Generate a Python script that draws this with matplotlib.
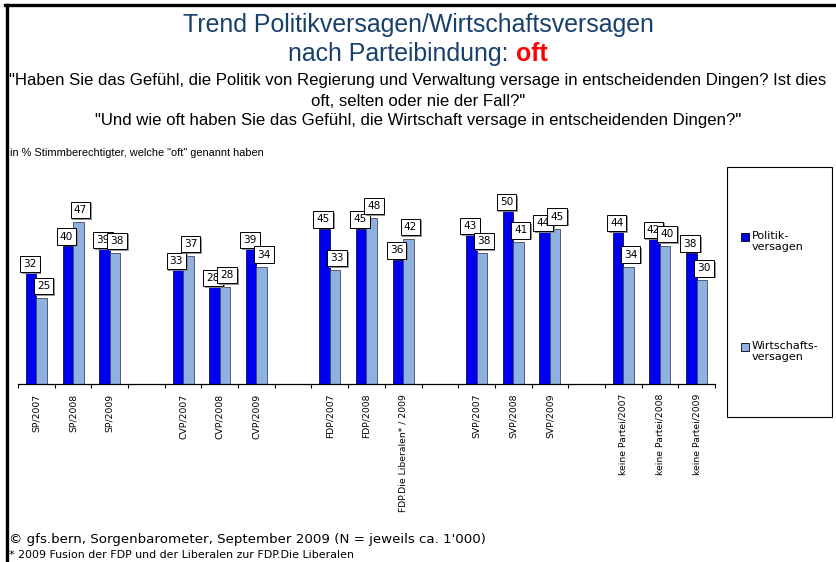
import numpy as np
import matplotlib
matplotlib.use("Agg")
import matplotlib.pyplot as plt
from matplotlib.patches import Rectangle
from matplotlib.lines import Line2D
from matplotlib import patheffects as pe

# Daten
kategorien = ["SP/2007", "SP/2008", "SP/2009",
              "CVP/2007", "CVP/2008", "CVP/2009",
              "FDP/2007", "FDP/2008", "FDP.Die Liberalen* / 2009",
              "SVP/2007", "SVP/2008", "SVP/2009",
              "keine Partei/2007", "keine Partei/2008", "keine Partei/2009"]
politik = [32, 40, 39, 33, 28, 39, 45, 45, 36, 43, 50, 44, 44, 42, 38]
wirtschaft = [25, 47, 38, 37, 28, 34, 33, 48, 42, 38, 41, 45, 34, 40, 30]

DUNKEL = "#0000F0"
HELL = "#8FB1E0"
TITEL = "#17406D"
SCHMAL = ["DejaVu Sans Condensed", "Liberation Sans", "DejaVu Sans"]

W, H = 836, 562
fig = plt.figure(figsize=(W / 100, H / 100), dpi=100)
fig.patch.set_facecolor("white")

def fx(px): return px / W
def fy(py): return 1 - py / H

# Rahmen oben/links
fig.add_artist(Line2D([fx(5), fx(836)], [fy(5), fy(5)], color="black", lw=2.4))
fig.add_artist(Line2D([fx(7), fx(7)], [fy(5), fy(562)], color="black", lw=2.4))

# Titel
fig.text(0.5, fy(25), "Trend Politikversagen/Wirtschaftsversagen", ha="center", va="center",
         fontsize=17.9, color=TITEL, family=SCHMAL)
t1 = fig.text(0.5, fy(54), "nach Parteibindung: ", ha="left", va="center",
              fontsize=17.9, color=TITEL, family=SCHMAL)
t2 = fig.text(0.5, fy(54), "oft", ha="left", va="center",
              fontsize=17.9, color="#FF0000", fontweight="bold", family=SCHMAL)
fig.canvas.draw()
w1 = t1.get_window_extent().width
w2 = t2.get_window_extent().width
start = (W - (w1 + w2)) / 2
t1.set_x(fx(start))
t2.set_x(fx(start + w1))

fig.text(0.5, fy(81), '"Haben Sie das Gefühl, die Politik von Regierung und Verwaltung versage in entscheidenden Dingen? Ist dies',
         ha="center", va="center", fontsize=12.1, family=SCHMAL)
fig.text(0.5, fy(101), 'oft, selten oder nie der Fall?"', ha="center", va="center",
         fontsize=12.1, family=SCHMAL)
fig.text(0.5, fy(120), '"Und wie oft haben Sie das Gefühl, die Wirtschaft versage in entscheidenden Dingen?"',
         ha="center", va="center", fontsize=12.1, family=SCHMAL)
fig.text(fx(10), fy(153), 'in % Stimmberechtigter, welche "oft" genannt haben', ha="left", va="center",
         fontsize=7.9, family=SCHMAL)

# Diagramm
ax = fig.add_axes([fx(18), fy(384), fx(715) - fx(18), (384 - 194) / H])
slots = np.array([g * 4 + j for g in range(5) for j in range(3)]) + 0.5
bw = 0.286
ax.bar(slots - bw / 2, politik, bw, color=DUNKEL, edgecolor="#101040", lw=0.6, zorder=2)
ax.bar(slots + bw / 2, wirtschaft, bw, color=HELL, edgecolor="#404858", lw=0.6, zorder=2)

schatten = [pe.SimplePatchShadow(offset=(1.2, -1.2), shadow_rgbFace="#888888", alpha=0.9), pe.Normal()]
box = dict(boxstyle="square,pad=0.3", fc="white", ec="black", lw=0.7)
for x, v in zip(slots - bw / 2, politik):
    t = ax.annotate(str(v), (x, v), xytext=(-1, 3), textcoords="offset points",
                    ha="center", va="bottom", fontsize=7.6, zorder=5, bbox=box)
    t.get_bbox_patch().set_path_effects(schatten)
for x, v in zip(slots + bw / 2, wirtschaft):
    t = ax.annotate(str(v), (x, v), xytext=(1.5, 5), textcoords="offset points",
                    ha="center", va="bottom", fontsize=7.6, zorder=6, bbox=box)
    t.get_bbox_patch().set_path_effects(schatten)

ax.set_xlim(0, 19)
ax.set_ylim(0, 55)
ax.set_xticks(np.arange(0, 20))
ax.set_xticks(slots, minor=True)
ax.set_xticklabels([])
ax.set_xticklabels(kategorien, minor=True, rotation=90, fontsize=6.7, va="top")
ax.tick_params(axis="x", which="major", length=3, width=0.8, direction="out")
ax.tick_params(axis="x", which="minor", length=0, pad=7)
ax.set_yticks([])
for s in ["top", "right", "left"]:
    ax.spines[s].set_visible(False)
ax.spines["bottom"].set_linewidth(0.9)
ax.patch.set_alpha(0)

# Legende
fig.add_artist(Rectangle((fx(727), fy(417)), fx(832) - fx(727), (417 - 167) / H,
                         fill=False, ec="black", lw=0.8, transform=fig.transFigure))
for y, farbe, text in [(237, DUNKEL, "Politik-\nversagen"), (347, HELL, "Wirtschafts-\nversagen")]:
    fig.add_artist(Rectangle((fx(741), fy(y + 4)), fx(8), 8 / H, fc=farbe, ec="black",
                             lw=0.6, transform=fig.transFigure))
    fig.text(fx(752), fy(y - 6), text, ha="left", va="top", fontsize=8, linespacing=1.1)

# Fusszeile
fig.text(fx(9), fy(540), "© gfs.bern, Sorgenbarometer, September 2009 (N = jeweils ca. 1'000)",
         ha="left", va="center", fontsize=9.6)
fig.text(fx(9), fy(555), "* 2009 Fusion der FDP und der Liberalen zur FDP.Die Liberalen",
         ha="left", va="center", fontsize=7.9)

fig.savefig("out.png", dpi=100, facecolor="white")
